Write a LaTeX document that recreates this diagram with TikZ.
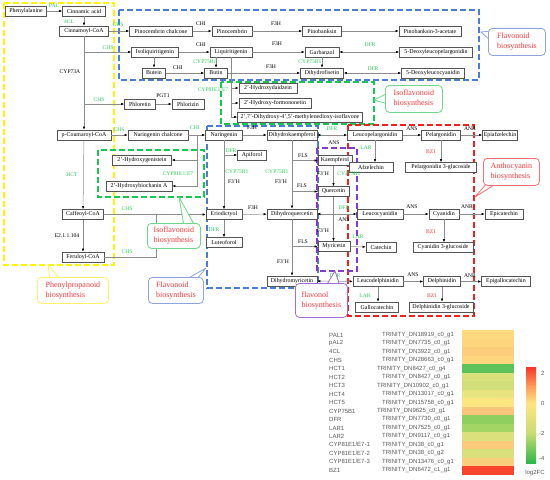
\documentclass[tikz,border=0pt]{standalone}
\usepackage{fontspec}
\setmainfont{Liberation Serif}
\newfontfamily\gsans{Liberation Sans}
\usetikzlibrary{arrows.meta}
\definecolor{enz}{RGB}{46,204,96}
\definecolor{rd}{RGB}{255,55,55}
\definecolor{ln}{RGB}{140,140,140}
\definecolor{bx}{RGB}{85,85,85}
\definecolor{ylw}{RGB}{255,245,0}
\definecolor{blu}{RGB}{74,126,214}
\definecolor{grn}{RGB}{20,200,80}
\definecolor{redb}{RGB}{245,30,30}
\definecolor{pur}{RGB}{130,60,200}
\definecolor{gtxt}{RGB}{90,90,90}
\definecolor{cblu}{RGB}{140,165,225}
\definecolor{cgrn}{RGB}{110,215,140}
\definecolor{cylw}{RGB}{255,240,110}
\definecolor{cred}{RGB}{255,110,110}
\definecolor{cpur}{RGB}{160,110,210}
\tikzset{
  cpd/.style={draw=bx,line width=0.65pt,fill=white,font=\fontsize{5.9}{6.2}\selectfont,inner xsep=1pt,inner ysep=0pt,minimum height=10pt},
  arr/.style={draw=ln,line width=0.5pt,-{Latex[length=3pt,width=2.4pt,color=black]}},
  darr/.style={draw=ln,line width=0.5pt,{Latex[length=3pt,width=2.4pt,color=black]}-{Latex[length=3pt,width=2.4pt,color=black]}},
  pln/.style={draw=ln,line width=0.5pt},
  eg/.style={font=\fontsize{5.6}{6}\selectfont,text=enz,inner sep=0pt},
  ek/.style={font=\fontsize{5.6}{6}\selectfont,text=black,inner sep=0pt},
  er/.style={font=\fontsize{5.6}{6}\selectfont,text=rd,inner sep=0pt},
  dbox/.style={line width=1.1pt,dash pattern=on 6pt off 3pt},
  cbox/.style={rounded corners=4pt,fill=white,line width=0.8pt,font=\fontsize{8}{10}\selectfont,text=rd,align=left,inner sep=0pt,anchor=north west},
  ctail/.style={fill=white,line width=0.8pt,line join=round},
  hl/.style={font=\gsans\fontsize{6}{7}\selectfont,text=gtxt,inner sep=0pt,anchor=west}
}
\begin{document}
\begin{tikzpicture}[x=1pt,y=-1pt]
\useasboundingbox (0,0) rectangle (550,480);
\fill[white] (0,0) rectangle (550,480);

% ---------- dashed region boxes ----------
\draw[dbox,ylw] (4,3) rectangle (114,265);
\draw[dbox,blu] (119,10) rectangle (479,80);
\draw[dbox,grn] (221,82) rectangle (374,124);
\draw[dbox,grn] (98,150) rectangle (204,197);
\draw[dbox,blu] (207,126) rectangle (318,288);
\draw[dbox,redb] (348,125) rectangle (474,316);
\draw[dbox,pur] (317,148) rectangle (357,271);

% ---------- compounds ----------
\node[cpd,minimum width=41pt] (phe) at (26,11) {Phenylalanine};
\node[cpd,minimum width=43pt] (cin) at (84,11) {Cinnamic acid};
\node[cpd,minimum width=49pt] (cinco) at (84,31) {Cinnamoyl-CoA};
\node[cpd,minimum width=63pt] (pcc) at (161,31) {Pinocembrin chalcone};
\node[cpd,minimum width=40pt] (pino) at (232,31) {Pinocembrin};
\node[cpd,minimum width=39pt] (pinob) at (322,31) {Pinobanksin};
\node[cpd,minimum width=62pt] (pinoba) at (430,31) {Pinobanksin-3-acetate};

\node[cpd,minimum width=47pt] (iso) at (155,52) {Isoliquiritigenin};
\node[cpd,minimum width=42pt] (liq) at (231,52) {Liquiritigenin};
\node[cpd,minimum width=34pt] (garb) at (322,52) {Garbanzol};
\node[cpd,minimum width=73pt] (dlp) at (436,52) {5-Deoxyleucopelargonidin};

\node[cpd,minimum width=23pt] (butein) at (154,73) {Butein};
\node[cpd,minimum width=23pt] (butin) at (216,73) {Butin};
\node[cpd,minimum width=43pt] (dhf) at (322,73) {Dihydrofisetin};
\node[cpd,minimum width=63pt] (dlc) at (433,73) {5-Deoxyleucocyanidin};

\node[cpd,minimum width=58pt] (hdz) at (268,88) {2'-Hydroxydaidzein};
\node[cpd,minimum width=72pt] (hfm) at (275,103) {2'-Hydroxy-formononetin};
\node[cpd,minimum width=125pt] (hme) at (300,117) {2',7'-Dihydroxy-4',5'-methylenedioxy-isoflavone};

\node[cpd,minimum width=31pt] (phlt) at (140,104) {Phloretin};
\node[cpd,minimum width=32pt] (phlz) at (188,104) {Phlorizin};

\node[cpd,minimum width=54pt] (pcou) at (84,135) {p-Coumaroyl-CoA};
\node[cpd,minimum width=60pt] (nchal) at (158,135) {Naringenin chalcone};
\node[cpd,minimum width=37pt] (nar) at (224,135) {Naringenin};
\node[cpd,minimum width=50pt] (dhk) at (292,135) {Dihydrokaempferol};
\node[cpd,minimum width=55pt] (lpg) at (375,135) {Leucopelargonidin};
\node[cpd,minimum width=39pt] (pel) at (441,135) {Pelargonidin};
\node[cpd,minimum width=35pt] (epiaf) at (500,135) {Epiafzelechin};

\node[cpd,minimum width=29pt] (apif) at (252,155) {Apiforol};
\node[cpd,minimum width=34pt] (kaem) at (335,160.5) {Kaempferol};
\node[cpd,minimum width=44pt] (afz) at (371,167.5) {Afzelechin};
\node[cpd,minimum width=71pt] (pel3g) at (441,167.5) {Pelargonidin 3-glucoside};
\node[cpd,minimum width=59pt] (hgen) at (142,160) {2'-Hydroxygenistein};
\node[cpd,minimum width=66pt] (hbio) at (139,186) {2'-Hydroxybiochanin A};
\node[cpd,minimum width=31pt] (que) at (333.5,191.5) {Quercetin};

\node[cpd,minimum width=41pt] (caf) at (83,214.5) {Caffeoyl-CoA};
\node[cpd,minimum width=36pt] (erio) at (224,214.5) {Eriodictyol};
\node[cpd,minimum width=50pt] (dhq) at (292,214) {Dihydroquercetin};
\node[cpd,minimum width=46pt] (lcy) at (380,214) {Leucocyanidin};
\node[cpd,minimum width=30pt] (cya) at (444,214) {Cyanidin};
\node[cpd,minimum width=38pt] (epicat) at (504,214) {Epicatechin};

\node[cpd,minimum width=36pt] (lute) at (224,242.5) {Luteoforol};
\node[cpd,minimum width=32pt] (myr) at (334,246.5) {Myricetin};
\node[cpd,minimum width=30pt] (cat) at (381,247) {Catechin};
\node[cpd,minimum width=60pt] (cya3g) at (443,247.5) {Cyanidin 3-glucoside};
\node[cpd,minimum width=42pt] (fer) at (83,257) {Feruloyl-CoA};

\node[cpd,minimum width=50pt] (dhm) at (292,281) {Dihydromyricetin};
\node[cpd,minimum width=50pt] (ldp) at (378,281.5) {Leucodelphinidin};
\node[cpd,minimum width=37pt] (del) at (442,281.5) {Delphinidin};
\node[cpd,minimum width=49pt] (epigal) at (506,281.5) {Epigallocatechin};

\node[cpd,minimum width=43pt] (gal) at (377,307) {Gallocatechin};
\node[cpd,minimum width=64pt] (del3g) at (441,307) {Delphinidin 3-glucoside};

% ---------- connectors ----------
\draw[arr] (phe) -- (cin);
\draw[arr] (cin) -- (cinco);
\draw[arr] (cinco) -- (pcc);
\draw[arr] (pcc) -- (pino);
\draw[arr] (pino) -- (pinob);
\draw[arr] (pinob) -- (pinoba);
\draw[arr] (cinco.south) -- (pcou.north);
\draw[arr] (cinco.south |- iso.west) -- (iso.west);
\draw[arr] (cinco.south |- phlt.west) -- (phlt.west);
\draw[arr] (iso) -- (liq);
\draw[arr] (liq) -- (garb);
\draw[darr] (garb) -- (dlp);
\draw[arr] (butein.north |- iso.south) -- (butein.north);
\draw[arr] (butein) -- (butin);
\draw[arr] (butin.north |- liq.south) -- (butin.north);
\draw[arr] (butin) -- (dhf);
\draw[arr] (garb) -- (dhf);
\draw[darr] (dhf) -- (dlc);
\draw[arr] (liq.south) |- (hme.west);
\draw[arr] (liq.south |- hdz.west) -- (hdz.west);
\draw[arr] (liq.south |- hfm.west) -- (hfm.west);
\draw[arr] (phlt) -- (phlz);
\draw[arr] (pcou) -- (nchal);
\draw[arr] (nchal) -- (nar);
\coordinate (iv) at (197,135);
\draw[arr] (iv) |- (hbio.east);
\draw[arr] (iv |- hgen.east) -- (hgen.east);
\draw[arr] (nar) -- (dhk);
\draw[darr] (dhk) -- (lpg);
\draw[arr] (lpg) -- (pel);
\draw[arr] (pel) -- (epiaf);
\draw[arr] (pel) -- (pel3g);
\draw[arr] (lpg.south) -- (lpg.south |- afz.north);
\draw[arr] (nar.south) -- (erio.north);
\draw[arr] (nar.south |- apif.west) -- (apif.west);
\draw[arr] (dhk.south) -- (dhq.north);
\draw[arr] (dhk.south |- kaem.west) -- (kaem.west);
\draw[arr] (dhk.south |- que.west) -- (que.west);
\draw[arr] (que.north |- kaem.south) -- (que.north);
\draw[arr] (que.south) -- (que.south |- myr.north);
\draw[arr] (pcou) -- (caf);
\draw[arr] (caf) -- (fer);
\draw[arr] (caf) -- (erio);
\coordinate (fj) at (156,214.5);
\draw[pln] (fer.east) -| (fj);
\draw[arr] (erio) -- (dhq);
\draw[darr] (dhq) -- (lcy);
\draw[arr] (lcy) -- (cya);
\draw[arr] (cya) -- (epicat);
\draw[arr] (cya.south) -- (cya.south |- cya3g.north);
\draw[arr] (erio) -- (lute);
\draw[arr] (dhq.south) -- (dhm.north);
\draw[arr] (dhq.south |- myr.west) -- (myr.west);
\draw[arr] (myr) -- (cat);
\draw[darr] (dhm) -- (ldp);
\draw[arr] (ldp) -- (del);
\draw[arr] (del) -- (epigal);
\draw[arr] (ldp.south) -- (ldp.south |- gal.north);
\draw[arr] (del.south) -- (del.south |- del3g.north);

% ---------- enzyme labels ----------
\node[eg] (e1) at (54,6) {PAL};
\node[eg] (e2) at (69,22) {4CL};
\node[eg] (e3) at (118,25) {CHS};
\node[ek] (e4) at (201,24) {CHI};
\node[ek] (e5) at (276,24) {F3H};
\node[eg] (e6) at (108,48) {CHS};
\node[ek] (e7) at (201,45) {CHI};
\node[ek] (e8) at (277,44) {F3H};
\node[eg] (e9) at (370,45) {DFR};
\node[ek] (e10) at (70,72) {CYP73A};
\node[ek] (e11) at (178,68) {CHI};
\node[eg] (e12) at (205,62) {CYP75B1};
\node[ek] (e13) at (271,67) {F3H};
\node[eg] (e14) at (310,62) {CYP75B1};
\node[eg] (e15) at (373,69) {DFR};
\node[eg] (e16) at (213,90) {CYP81E1/E7};
\node[eg] (e17) at (99,100) {CHS};
\node[ek] (e18) at (163,96) {PGT1};
\node[eg] (e19) at (119,130) {CHS};
\node[eg] (e20) at (195,128) {CHI};
\node[ek] (e21) at (252,128) {F3H};
\node[eg] (e22) at (332,129) {DFR};
\node[ek] (e23) at (412,129) {ANS};
\node[ek] (e24) at (470,129) {ANR};
\node[ek] (e25) at (334,143) {ANS};
\node[er] (e26) at (431,152) {BZ1};
\node[eg] (e27) at (366,148) {LAR};
\node[eg] (e28) at (231,151) {DFR};
\node[ek] (e29) at (303,156) {FLS};
\node[eg] (e30) at (237,172) {CYP75B1};
\node[ek] (e31) at (234,182) {F3'H};
\node[eg] (e32) at (277,172) {CYP75B1};
\node[ek] (e33) at (281,182) {F3'H};
\node[eg] (e34) at (178,174) {CYP81E1/E7};
\node[ek] (e35) at (323,174) {F3'H};
\node[eg] (e36) at (349,174) {CYP75B1};
\node[ek] (e37) at (302,186) {FLS};
\node[eg] (e38) at (72,175) {HCT};
\node[eg] (e39) at (127,209) {CHS};
\node[ek] (e40) at (253,208) {F3H};
\node[eg] (e41) at (344,208) {DFR};
\node[ek] (e42) at (412,207) {ANS};
\node[ek] (e43) at (467,207) {ANR};
\node[eg] (e44) at (214,230) {DFR};
\node[ek] (e45) at (344,220) {ANS};
\node[ek] (e46) at (323,231) {F3'H};
\node[er] (e47) at (431,232) {BZ1};
\node[ek] (e48) at (67,236) {E2.1.1.104};
\node[ek] (e49) at (303,242) {FLS};
\node[eg] (e50) at (358,237) {LAR};
\node[eg] (e51) at (127,252) {CHS};
\node[ek] (e52) at (283,262) {F3'H};
\node[eg] (e53) at (335,276) {DFR};
\node[ek] (e54) at (413,275) {ANS};
\node[ek] (e55) at (470,276) {ANR};
\node[eg] (e56) at (365,296) {LAR};
\node[er] (e57) at (432,296) {BZ1};

% ---------- callouts ----------
\coordinate (t1) at (481,32);
\draw[ctail,draw=cblu] (t1) -- (491,31) -- (491,41) -- cycle;
\node[cbox,draw=cblu,minimum width=57pt,minimum height=27pt] (c1) at (488,28) {Flavonoid\\biosynthesis};

\coordinate (t2) at (374,100);
\draw[ctail,draw=cgrn] (t2) -- (388,93) -- (388,104) -- cycle;
\node[cbox,draw=cgrn,minimum width=57pt,minimum height=27pt] (c2) at (385,85) {Isoflavonoid\\biosynthesis};

\coordinate (t3) at (179,197);
\draw[ctail,draw=cgrn] (t3) -- (184,226) -- (195,226) -- cycle;
\node[cbox,draw=cgrn,minimum width=53pt,minimum height=25pt] (c3) at (147,223) {Isoflavonoid\\biosynthesis};

\coordinate (t4) at (48,265);
\draw[ctail,draw=cylw] (t4) -- (50,280) -- (61,280) -- cycle;
\node[cbox,draw=cylw,minimum width=71pt,minimum height=26pt] (c4) at (37,277) {Phenylpropanoid\\biosynthesis};

\coordinate (t5) at (206,268);
\draw[ctail,draw=cblu] (t5) -- (185,280) -- (196,280) -- cycle;
\node[cbox,draw=cblu,minimum width=55pt,minimum height=26pt] (c5) at (148,277) {Flavonoid\\biosynthesis};

\coordinate (t6) at (475,197);
\draw[ctail,draw=cred] (t6) -- (487,183) -- (497,183) -- cycle;
\node[cbox,draw=cred,minimum width=56pt,minimum height=27pt] (c6) at (483,158) {Anthocyanin\\biosynthesis};

\coordinate (t7) at (335,271);
\draw[ctail,draw=cpur] (t7) -- (326,286) -- (340,286) -- cycle;
\node[cbox,draw=cpur,minimum width=52pt,minimum height=34pt] (c7) at (295,283) {flavonol\\biosynthesis};

% ---------- heatmap ----------
\foreach \gn/\tn/\tx/\hc [count=\i from 0] in {
 PAL1/TRINITY\_DN18919\_c0\_g1/382/FDD97F,
 pAL2/TRINITY\_DN7735\_c0\_g1/382/FDD67D,
 4CL/TRINITY\_DN3922\_c0\_g1/382/FCCE7A,
 CHS/TRINITY\_DN28663\_c0\_g1/382/FDD67D,
 HCT1/TRINITY\_DN8427\_c0\_g4/377/5DC25A,
 HCT2/TRINITY\_DN8427\_c0\_g1/382/D9E07C,
 HCT3/TRINITY\_DN10902\_c0\_g1/377/D2DE7A,
 HCT4/TRINITY\_DN13017\_c0\_g1/382/E8E480,
 HCT5/TRINITY\_DN15758\_c0\_g1/382/FDE582,
 CYP75B1/TRINITY\_DN9625\_c0\_g1/377/FCC479,
 DFR/TRINITY\_DN7730\_c0\_g1/382/8FCF60,
 LAR1/TRINITY\_DN7525\_c0\_g1/382/A3D565,
 LAR2/TRINITY\_DN9117\_c0\_g1/382/DCE07C,
 {CYP81E1/E7-1}/TRINITY\_DN38\_c0\_g1/382/FDC97A,
 {CYP81E1/E7-2}/TRINITY\_DN38\_c0\_g2/382/D9DF7A,
 {CYP81E1/E7-3}/TRINITY\_DN13476\_c0\_g1/382/FDCE7B,
 BZ1/TRINITY\_DN6472\_c1\_g1/382/F8452B}{
  \edef\mkcol{\noexpand\definecolor{tmpc}{HTML}{\hc}}\mkcol
  \fill[tmpc] (462,{330+\i*8.53}) rectangle (514,{330+(\i+1)*8.53});
  \node[hl] (g\i) at (329,{335+\i*8.45}) {\gn};
  \node[hl] (tr\i) at (\tx,{335+\i*8.45}) {\tn};
}
% color bar
\definecolor{cb1}{HTML}{F8352A}
\definecolor{cb2}{HTML}{FB9A58}
\definecolor{cb3}{HTML}{FDE582}
\definecolor{cb4}{HTML}{C8DC72}
\definecolor{cb5}{HTML}{2DB84A}
\shade[top color=cb1,bottom color=cb2] (526,367) rectangle (536,386);
\shade[top color=cb2,bottom color=cb3] (526,385.5) rectangle (536,403.5);
\shade[top color=cb3,bottom color=cb4] (526,403) rectangle (536,433.5);
\shade[top color=cb4,bottom color=cb5] (526,433) rectangle (536,463);
\node[hl] (k1) at (541,373) {2};
\node[hl] (k2) at (541,403) {0};
\node[hl] (k3) at (539,433) {-2};
\node[hl] (k4) at (539,458) {-4};
\node[hl,anchor=center] (k5) at (535,473) {log2FC};
\end{tikzpicture}
\end{document}
